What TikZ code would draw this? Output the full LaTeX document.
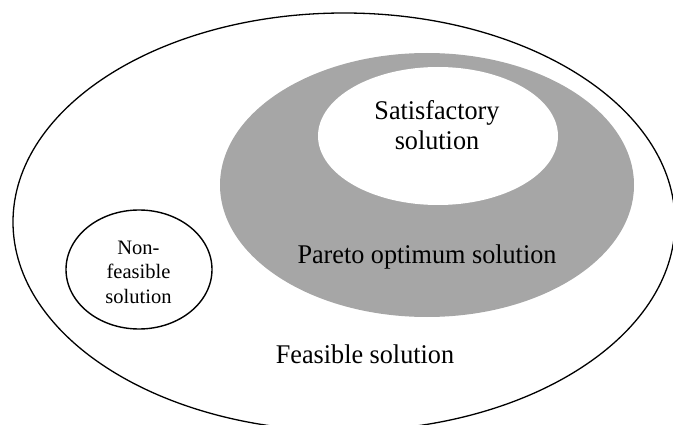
\documentclass[tikz,border=0pt]{standalone}
\usepackage{fontspec}
\setmainfont{Liberation Serif}
\newfontfamily\tallserif{Liberation Serif}[FakeStretch=0.97]
\usetikzlibrary{positioning}
\usetikzlibrary{shapes.geometric}
\definecolor{paretogray}{RGB}{166,166,166}

\begin{document}
\begin{tikzpicture}[x=1pt,y=-1pt,
	region/.style={ellipse, inner sep=0pt, outer sep=0pt},
	biglabel/.style={inner sep=0pt, align=center, font=\tallserif\fontsize{27}{30}\selectfont},
	smalllabel/.style={inner sep=0pt, align=center, font=\fontsize{20.5}{24.5}\selectfont}]
	\clip (0,0) rectangle (673,425);
	
	%feasible region
	\node[region, draw, line width=1.3pt, minimum width=662pt, minimum height=418pt] (feasible) at (344,222) {};
	\node[biglabel, anchor=base] (feasibletext) at (365,363) {Feasible solution};
	
	%pareto region
	\node[region, fill=paretogray, minimum width=414pt, minimum height=264pt] (pareto) at (427,185) {};
	\node[biglabel, anchor=base] (paretotext) at (427,264) {Pareto optimum solution};
	
	%satisfactory region
	\node[region, fill=white, minimum width=240pt, minimum height=138pt] (satisfactory) at (438,136) {};
	\node[biglabel, anchor=base] (satisfactorytext) at (437,150) {Satisfactory\\solution};
	
	%non-feasible region
	\node[region, draw, line width=1.4pt, minimum width=146pt, minimum height=119pt] (nonfeasible) at (139,269.5) {};
	\node[smalllabel, anchor=base] (nonfeasibletext) at (138.5,303) {Non-\\feasible\\solution};
\end{tikzpicture}
\end{document}
